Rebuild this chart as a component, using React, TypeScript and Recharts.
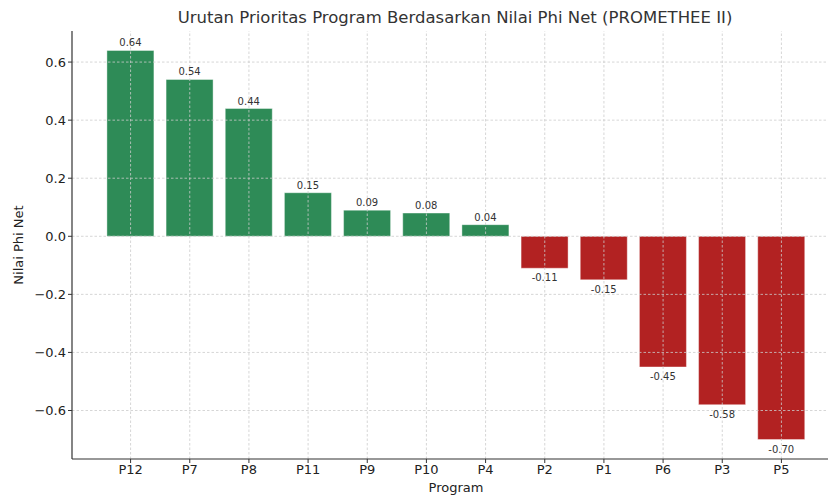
import React from 'react';
import { BarChart, Bar, XAxis, YAxis, Cell, LabelList, ReferenceLine } from 'recharts';

const programs = ['P12', 'P7', 'P8', 'P11', 'P9', 'P10', 'P4', 'P2', 'P1', 'P6', 'P3', 'P5'];
const phiNet = [0.64, 0.54, 0.44, 0.15, 0.09, 0.08, 0.04, -0.11, -0.15, -0.45, -0.58, -0.7];
const yTicks = [-0.6, -0.4, -0.2, 0.0, 0.2, 0.4, 0.6];

const data = programs.map((p, i) => ({ program: p, phi: phiNet[i] }));

const GREEN = '#2e8b57';
const RED = '#b22222';
const FONT = '"DejaVu Sans", sans-serif';

const fmtTick = (v: number) => {
  const s = Math.abs(v).toFixed(1);
  return v < -1e-9 ? '\u2212' + s : s;
};

const BarLabel = (props: any) => {
  const { x, y, width, height, value } = props;
  const top = Math.min(y, y + height);
  const bottom = Math.max(y, y + height);
  const cx = x + width / 2;
  const ty = value >= 0 ? top - 4 : bottom + 13;
  return (
    <text x={cx} y={ty} textAnchor="middle" fontSize={10} fill="#333" fontFamily={FONT}>
      {value.toFixed(2)}
    </text>
  );
};

const App: React.FC = () => {
  return (
    <div style={{ position: 'fixed', left: 0, top: 0, width: 828, height: 498, overflow: 'hidden', background: '#fff' }}>
      <div
        style={{
          position: 'absolute',
          top: 8,
          left: 0,
          width: 910,
          textAlign: 'center',
          fontFamily: FONT,
          fontSize: 16.5,
          color: '#333',
          whiteSpace: 'nowrap',
        }}
      >
        Urutan Prioritas Program Berdasarkan Nilai Phi Net (PROMETHEE II)
      </div>
      <div
        style={{
          position: 'absolute',
          left: 18,
          top: 245,
          transform: 'translate(-50%, -50%) rotate(-90deg)',
          fontFamily: FONT,
          fontSize: 13,
          color: '#222',
          whiteSpace: 'nowrap',
        }}
      >
        Nilai Phi Net
      </div>
      <div
        style={{
          position: 'absolute',
          left: 72,
          width: 768,
          top: 480,
          textAlign: 'center',
          fontFamily: FONT,
          fontSize: 13,
          color: '#222',
        }}
      >
        Program
      </div>
      <div style={{ position: 'absolute', left: 0, top: 0 }}>
        <BarChart
          width={860}
          height={498}
          data={data}
          margin={{ top: 31, right: 20, bottom: 0, left: 0 }}
          barCategoryGap="10%"
        >
          <XAxis
            dataKey="program"
            padding={{ left: 29, right: 29 }}
            axisLine={{ stroke: '#333', strokeWidth: 1.2 }}
            tickLine={{ stroke: '#333' }}
            tickSize={4}
            tick={{ fill: '#222', fontSize: 13, fontFamily: FONT }}
            interval={0}
            height={39}
          />
          <YAxis
            type="number"
            domain={[-0.767, 0.707]}
            ticks={yTicks}
            tickFormatter={fmtTick}
            allowDataOverflow
            width={72}
            axisLine={{ stroke: '#333', strokeWidth: 1.2 }}
            tickLine={{ stroke: '#333' }}
            tickSize={4}
            tick={{ fill: '#222', fontSize: 13, fontFamily: FONT }}
          />
          <Bar dataKey="phi" isAnimationActive={false} stroke="#ffffff" strokeOpacity={0.4} strokeWidth={1}>
            {data.map((d) => (
              <Cell key={d.program} fill={d.phi >= 0 ? GREEN : RED} />
            ))}
            <LabelList dataKey="phi" content={BarLabel} />
          </Bar>
          {yTicks.map((t) => (
            <ReferenceLine key={'h' + t} y={t} stroke="#cccccc" strokeDasharray="2.5 2" strokeWidth={0.8} />
          ))}
          {programs.map((p) => (
            <ReferenceLine key={'v' + p} x={p} stroke="#cccccc" strokeDasharray="2.5 2" strokeWidth={0.8} />
          ))}
        </BarChart>
      </div>
    </div>
  );
};

export default App;
